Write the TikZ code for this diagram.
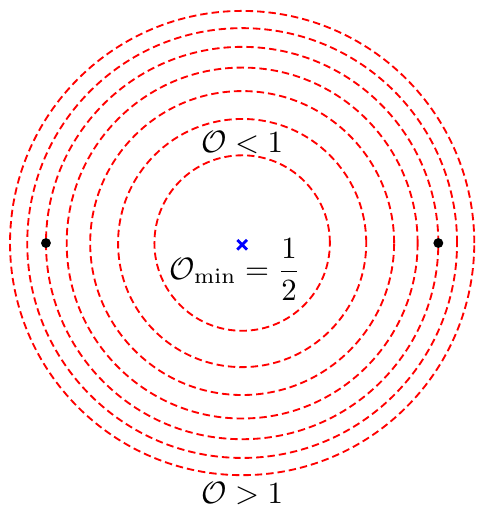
\documentclass[tikz,border=0pt]{standalone}
\usepackage{amsmath}
\begin{document}
\begin{tikzpicture}
\tikzset{
  orbit/.style={red, semithick, dash pattern=on 2.4pt off 1.3pt},
  dotpt/.style={circle, fill=black, inner sep=0pt, minimum size=3.2pt},
  lab/.style={inner sep=0pt}
}
\useasboundingbox (-2.76,-3.02) rectangle (2.67,2.77);
\coordinate (c) at (0,0);
\foreach \k in {1,...,7} {
  \draw[orbit] (c) circle ({sqrt(\k)});
}
\node[dotpt] (l) at (-2.2361,0) {};
\node[dotpt] (r) at (2.2361,0) {};
\draw[blue, line width=0.9pt] (-0.055,-0.075) -- (0.055,0.035) (-0.055,0.035) -- (0.055,-0.075);
\node[lab] (omin) at (-0.08,-0.30) {$\mathcal{O}_{\min} = \dfrac{1}{2}$};
\node[lab] (olt) at (0,1.15) {$\mathcal{O} < 1$};
\node[lab] (ogt) at (0,-2.85) {$\mathcal{O} > 1$};
\end{tikzpicture}
\end{document}
